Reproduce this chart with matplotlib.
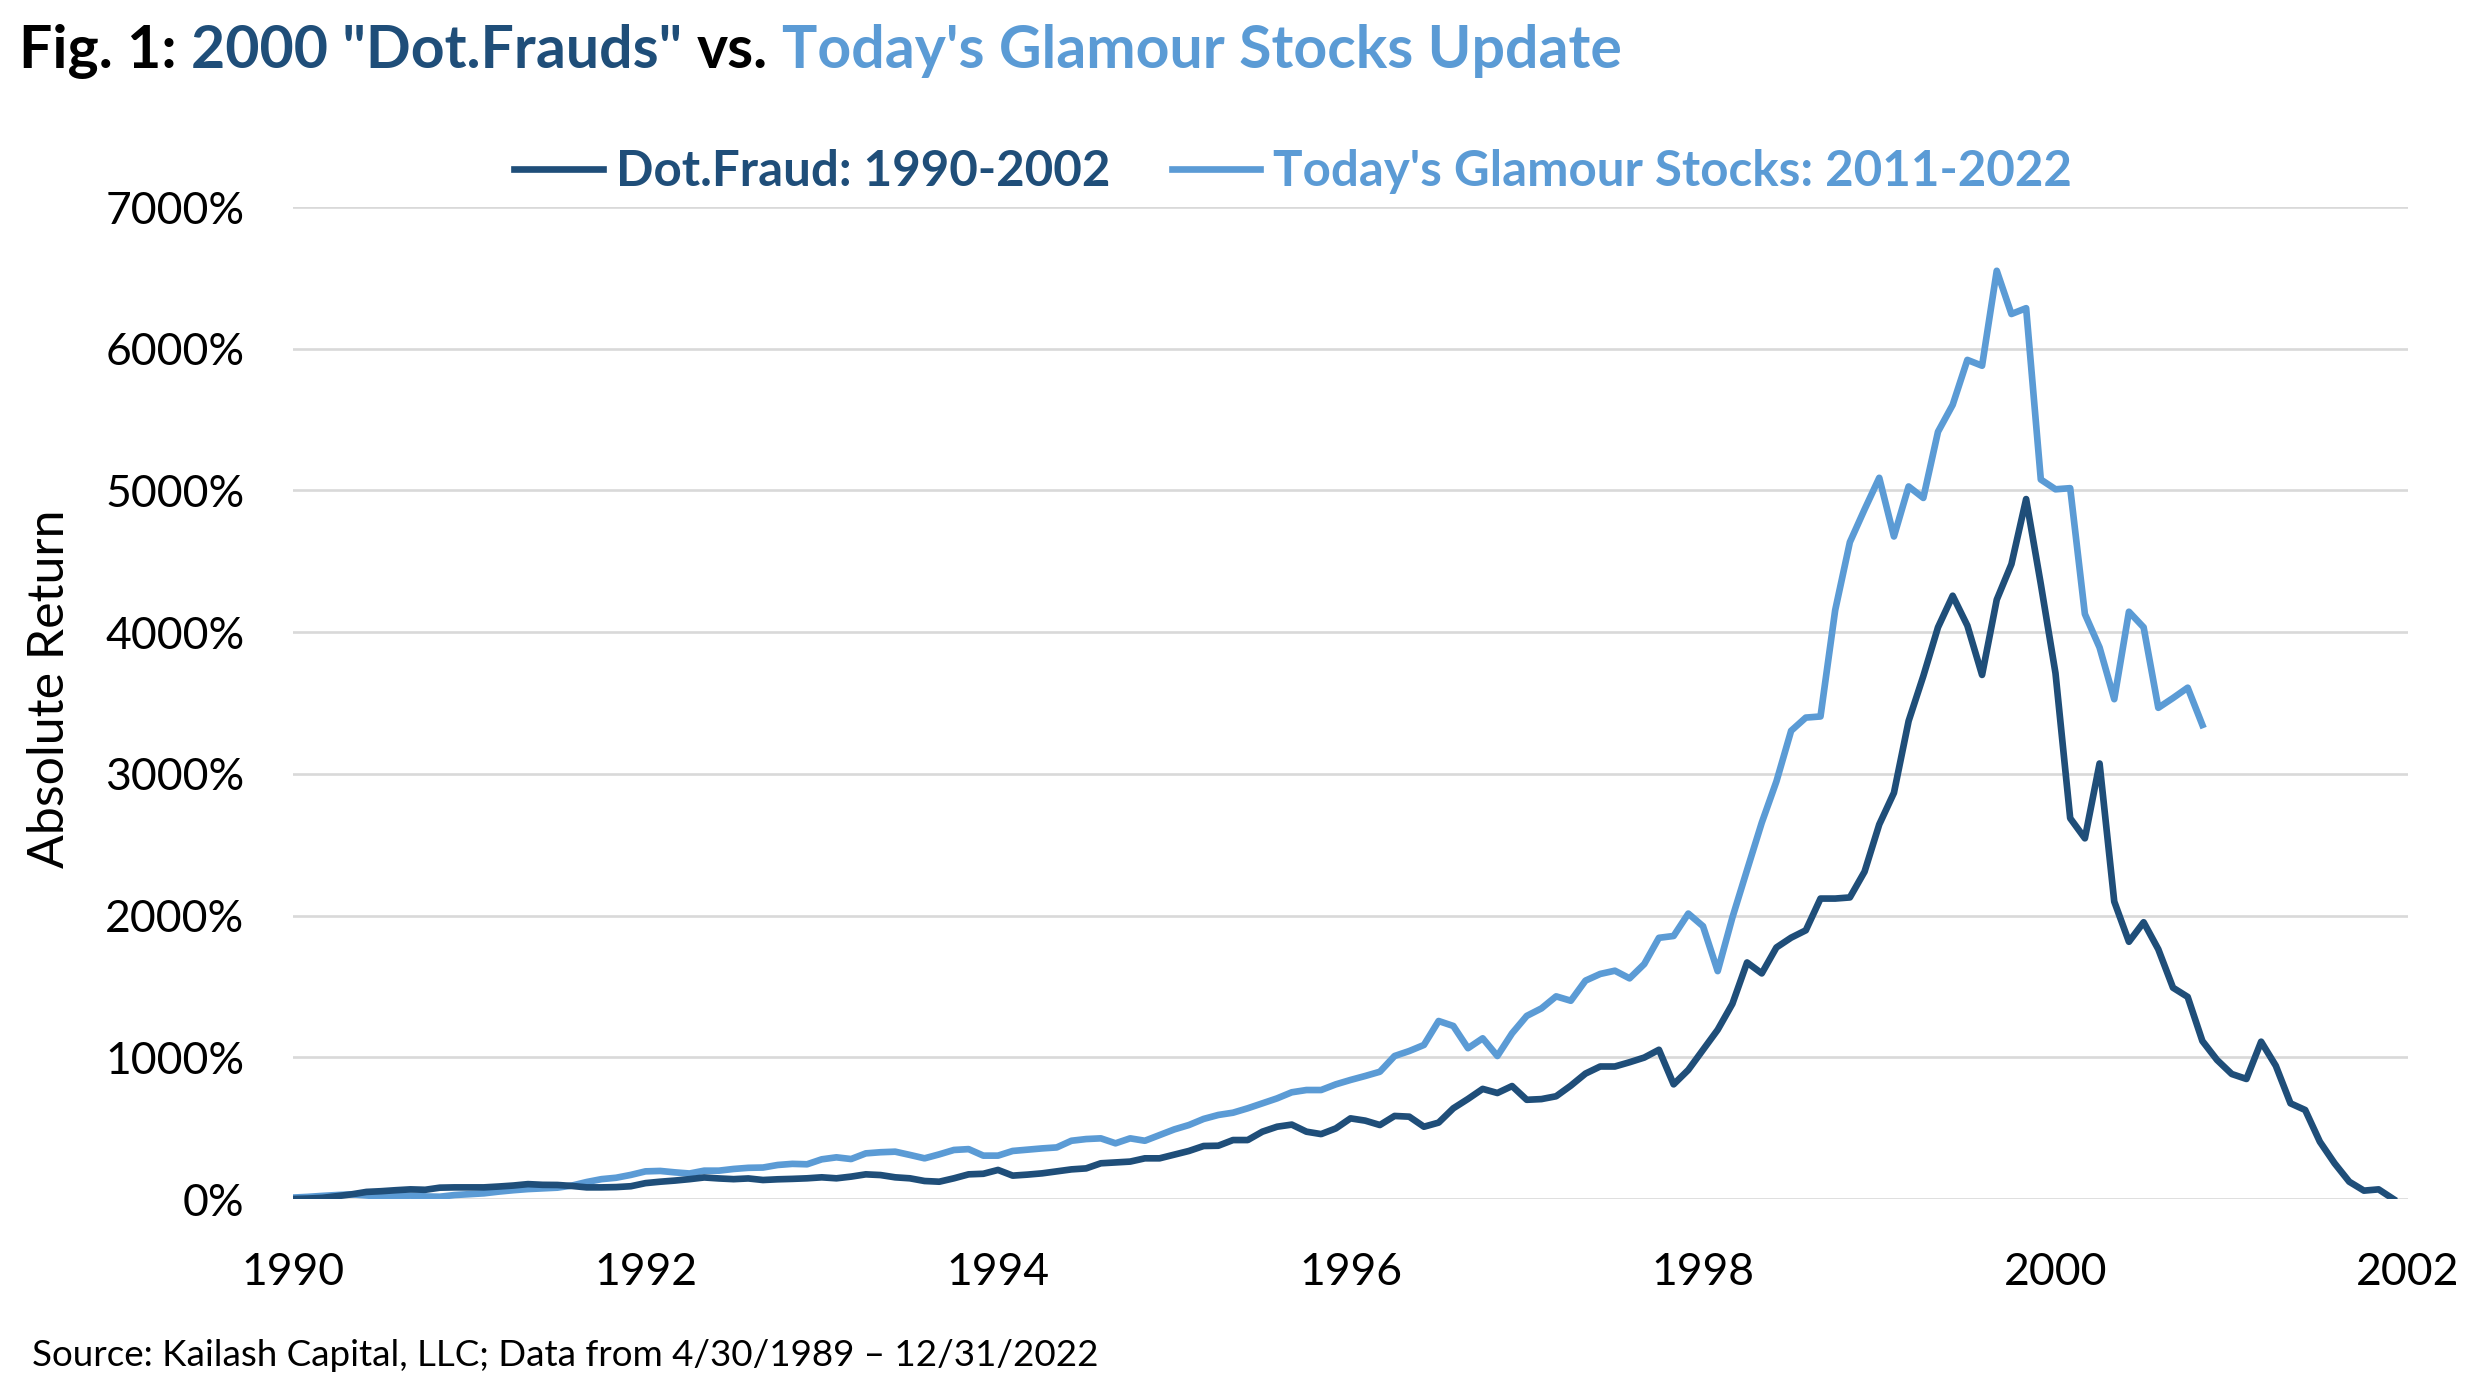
import matplotlib
matplotlib.use("Agg")
import matplotlib.pyplot as plt
import numpy as np

# monthly values, first point Jan 1990
dot_fraud = [
    0, 3, 8, 20, 33, 50, 55, 62, 68, 65, 80, 82,
    82, 82, 88, 95, 105, 100, 99, 92, 82, 82, 84, 90,
    112, 122, 130, 140, 152, 145, 140, 145, 134, 139, 142, 146,
    153, 146, 158, 174, 169, 153, 146, 127, 122, 146, 174, 178,
    205, 165, 172, 181, 195, 209, 216, 252, 258, 264, 287, 287,
    313, 339, 374, 376, 416, 416, 475, 510, 525, 475, 458, 498,
    569, 553, 522, 586, 581, 510, 539, 640, 706, 777, 748, 797,
    700, 705, 725, 800, 885, 935, 935, 965, 998, 1053, 809, 911,
    1053, 1194, 1377, 1669, 1592, 1775, 1844, 1896, 2120, 2120, 2128, 2310,
    2643, 2866, 3373, 3690, 4034, 4257, 4046, 3698, 4229, 4480, 4939, 4339,
    3710, 2687, 2545, 3073, 2099, 1815, 1953, 1762, 1491, 1426, 1115, 981,
    882, 847, 1110, 940, 675, 628, 404, 252, 122, 59, 68, 0,
]

glamour = [
    10, 15, 22, 28, 33, 25, 16, 20, 24, 18, 16, 28,
    34, 40, 52, 62, 70, 75, 80, 95, 120, 140, 150, 170,
    195, 198, 188, 180, 200, 200, 212, 220, 222, 240, 248, 245,
    280, 294, 282, 322, 330, 334, 311, 287, 315, 346, 352, 306,
    306, 339, 348, 357, 364, 411, 423, 428, 393, 428, 411, 451,
    491, 522, 565, 593, 609, 640, 675, 710, 753, 769, 769, 809,
    840, 868, 898, 1009, 1044, 1087, 1256, 1221, 1064, 1134, 1009, 1169,
    1292, 1345, 1430, 1399, 1541, 1588, 1611, 1557, 1658, 1843, 1856, 2014,
    1925, 1608, 1986, 2322, 2655, 2947, 3304, 3397, 3405, 4155, 4635, 4866,
    5089, 4675, 5028, 4947, 5414, 5604, 5921, 5880, 6550, 6245, 6286, 5077,
    5008, 5016, 4128, 3892, 3527, 4144, 4034, 3466, 3535, 3608, 3345,
]

year_ticks = [1990, 1992, 1994, 1996, 1998, 2000, 2002]
pct_ticks = [0, 1000, 2000, 3000, 4000, 5000, 6000, 7000]

DARK = "#1F4E79"
LIGHT = "#5B9BD5"
GRID = "#D9D9D9"

plt.rcParams["font.family"] = ["Lato", "DejaVu Sans"]

W, H = 2475, 1386
fig = plt.figure(figsize=(W / 100, H / 100), dpi=100)
ax = fig.add_axes([293 / W, 1 - 1199 / H, (2408 - 293) / W, (1199 - 207) / H])

x_dot = 1990 + np.arange(len(dot_fraud)) / 12
x_gl = 1990 + np.arange(len(glamour)) / 12
ax.plot(x_dot, dot_fraud, color=DARK, lw=4.8, solid_joinstyle="round",
        label="Dot.Fraud: 1990-2002", zorder=3)
ax.plot(x_gl, glamour, color=LIGHT, lw=4.8, solid_joinstyle="round",
        label="Today's Glamour Stocks: 2011-2022", zorder=2)

ax.set_xlim(1990, 2002)
ax.set_ylim(0, 7000)
ax.set_xticks(year_ticks)
ax.set_xticklabels([str(y) for y in year_ticks])
ax.set_yticks(pct_ticks)
ax.set_yticklabels([f"{p}%" for p in pct_ticks])
ax.tick_params(axis="both", length=0, labelsize=32, colors="black")
ax.tick_params(axis="y", pad=35)
ax.tick_params(axis="x", pad=38)
for s in ax.spines.values():
    s.set_visible(False)
ax.grid(axis="y", color=GRID, lw=1.9)
ax.set_axisbelow(True)

fig.text(50 / W, 0.503, "Absolute Return", rotation=90, fontsize=36,
         ha="center", va="center")

leg = fig.legend(loc="center", bbox_to_anchor=(1293 / W, 1 - 172 / H),
                 ncol=2, frameon=False, fontsize=35.5, handlelength=1.8,
                 handletextpad=0.25, columnspacing=1.25)
for txt, col in zip(leg.get_texts(), [DARK, LIGHT]):
    txt.set_color(col)
    txt.set_fontweight("bold")

# multi coloured title
pieces = [("Fig. 1:", "black"), ('2000 "Dot.Frauds"', DARK),
          ("vs.", "black"), ("Today's Glamour Stocks Update", LIGHT)]
renderer = fig.canvas.get_renderer()
probe = fig.text(0, 0, "a a", fontsize=42.5, fontweight="bold")
w_sp = probe.get_window_extent(renderer).width
probe.set_text("aa")
w_sp -= probe.get_window_extent(renderer).width
probe.remove()
xpos = 19
for s, col in pieces:
    t = fig.text(xpos / W, 1 - 68 / H, s, fontsize=42.5, fontweight="bold",
                 color=col, ha="left", va="baseline")
    xpos += t.get_window_extent(renderer).width + w_sp

fig.text(32 / W, 1 - 1366 / H,
         "Source: Kailash Capital, LLC; Data from 4/30/1989 \u2013 12/31/2022",
         fontsize=26.5, ha="left", va="baseline")

fig.savefig("out.png", dpi=100)
